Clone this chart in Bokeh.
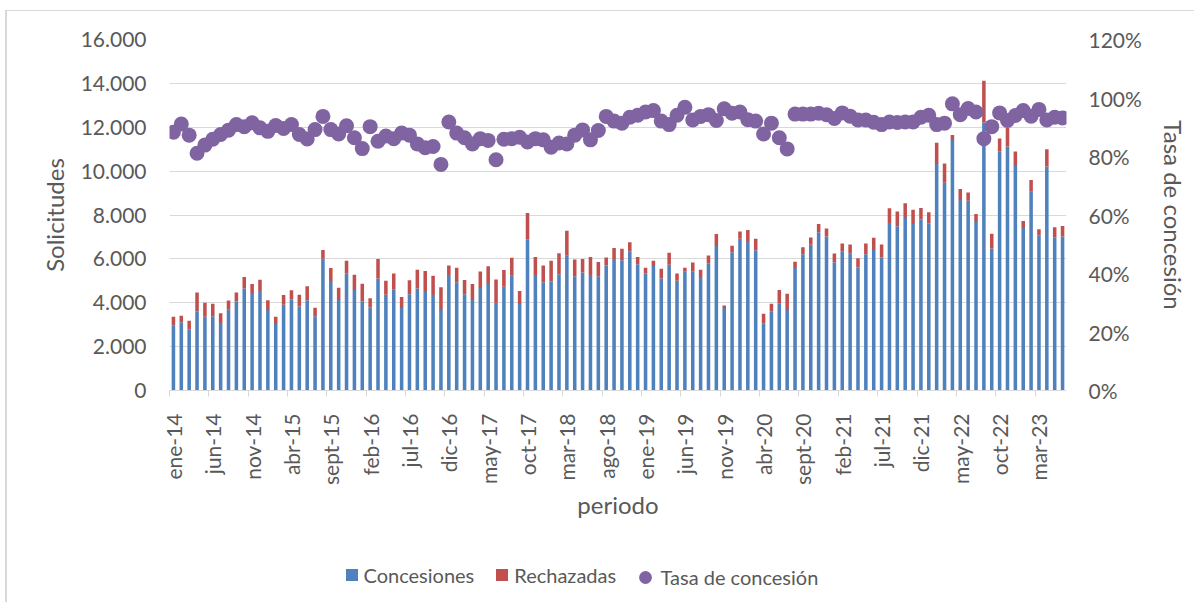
import math
from bokeh.plotting import figure
from bokeh.layouts import column
from bokeh.models import Range1d, LinearAxis, FixedTicker, ColumnDataSource, Legend, LegendItem
from bokeh.embed import file_html
from bokeh.resources import INLINE

meses = ["ene", "feb", "mar", "abr", "may", "jun", "jul", "ago", "sept", "oct", "nov", "dic"]
anios = ["14", "15", "16", "17", "18", "19", "20", "21", "22", "23"]
periodo = [f"{m}-{a}" for a in anios for m in meses][:114]

concesiones = [
    2950, 3110, 2790, 3610, 3360, 3390, 3080, 3680, 4060, 4650, 4440, 4530, 3670, 3030,
    3910, 4150, 3830, 4110, 3380, 6010, 4990, 4120, 5350, 4580, 4050, 3790, 5110, 4360,
    4620, 3760, 4390, 4650, 4530, 4350, 3670, 5260, 4940, 4390, 4120, 4670, 4860, 4000,
    4730, 5230, 3940, 6890, 5260, 4940, 4970, 5300, 6140, 5210, 5380, 5260, 5210, 5700,
    6000, 5940, 6350, 5760, 5330, 5670, 5110, 5730, 5000, 5410, 5410, 5170, 5800, 6590,
    3760, 6300, 6920, 6820, 6390, 3060, 3610, 3960, 3670, 5580, 6210, 6640, 7210, 7020,
    5850, 6350, 6230, 5610, 6210, 6410, 6060, 7640, 7490, 7860, 7590, 7790, 7610, 10320,
    9470, 11420, 8680, 8650, 7680, 12230, 6470, 10910, 11120, 10230, 7410, 9060, 7080, 10210,
    6990, 7020,
]
rechazadas = [
    410, 300, 390, 860, 640, 560, 440, 420, 410, 520, 420, 520, 440, 330,
    440, 420, 530, 640, 390, 400, 590, 560, 560, 700, 820, 410, 880, 640,
    710, 500, 640, 850, 920, 880, 1040, 440, 650, 650, 740, 760, 800, 1060,
    760, 820, 590, 1200, 820, 760, 940, 960, 1140, 760, 620, 830, 650, 360,
    500, 520, 410, 330, 260, 240, 440, 550, 330, 180, 420, 330, 350, 540,
    120, 300, 330, 500, 530, 440, 350, 620, 740, 290, 320, 330, 380, 360,
    390, 350, 420, 420, 490, 550, 590, 670, 670, 680, 650, 530, 520, 970,
    880, 230, 500, 380, 360, 1890, 670, 580, 850, 670, 320, 530, 270, 790,
    450, 480,
]
tasa = [
    88.3, 91.1, 87.3, 81.1, 83.9, 85.9, 87.5, 89.0, 90.9, 90.2, 91.5, 89.8, 88.6, 90.6,
    89.6, 90.9, 87.5, 86.0, 89.2, 93.7, 89.2, 87.7, 90.5, 86.4, 82.7, 90.2, 85.2, 87.0,
    86.1, 88.0, 87.3, 84.3, 83.0, 83.4, 77.3, 91.8, 88.0, 86.4, 84.3, 86.1, 85.5, 78.9,
    85.9, 86.1, 86.6, 85.0, 86.1, 85.7, 83.2, 84.6, 84.3, 87.3, 89.1, 85.7, 88.9, 93.7,
    92.1, 91.4, 93.4, 94.1, 95.2, 95.7, 92.1, 90.9, 94.1, 96.8, 92.5, 93.7, 94.3, 92.3,
    96.3, 94.8, 95.2, 92.6, 92.1, 87.7, 91.4, 86.4, 82.6, 94.5, 94.5, 94.5, 94.8, 94.3,
    93.0, 94.9, 93.8, 92.5, 92.5, 91.7, 90.9, 91.8, 91.6, 91.8, 91.8, 93.4, 94.1, 90.9,
    91.4, 98.0, 94.3, 96.4, 95.2, 86.1, 90.2, 94.9, 92.3, 94.0, 95.7, 93.8, 96.1, 92.5,
    93.4, 93.2,
]

x_tick_labels = ["ene-14", "jun-14", "nov-14", "abr-15", "sept-15", "feb-16", "jul-16",
                 "dic-16", "may-17", "oct-17", "mar-18", "ago-18", "ene-19", "jun-19",
                 "nov-19", "abr-20", "sept-20", "feb-21", "jul-21", "dic-21", "may-22",
                 "oct-22", "mar-23"]
y_left_ticks = [0, 2000, 4000, 6000, 8000, 10000, 12000, 14000, 16000]
y_left_labels = ["0", "2.000", "4.000", "6.000", "8.000", "10.000", "12.000", "14.000", "16.000"]
y_right_ticks = [0, 20, 40, 60, 80, 100, 120]
y_right_labels = ["0%", "20%", "40%", "60%", "80%", "100%", "120%"]
series_names = ["Concesiones", "Rechazadas", "Tasa de concesión"]

FONT = "Lato"
TXT = "#595959"
GRID = "#D9D9D9"
BLUE = "#4F81BD"
RED = "#C0504D"
PURPLE = "#8064A2"

W = 1187
n = len(periodo)
src = ColumnDataSource(dict(x=list(range(n)), periodo=periodo, concesiones=concesiones,
                            rechazadas=rechazadas, tasa=tasa))

p = figure(width=W, height=531, output_backend="svg", toolbar_location=None,
           x_range=Range1d(-0.5, n - 0.5), y_range=Range1d(0, 16000),
           min_border_left=162, min_border_right=128, min_border_top=28, min_border_bottom=152)
p.outline_line_color = None
p.background_fill_color = "white"
p.border_fill_color = "white"
p.extra_y_ranges = {"tasa": Range1d(0, 120)}

# bars and dots
bars = p.vbar_stack(["concesiones", "rechazadas"], x="x", width=0.45, color=[BLUE, RED],
                    line_color=None, source=src)
dots = p.scatter(x="x", y="tasa", size=15, color=PURPLE, line_color=None,
                 y_range_name="tasa", source=src)

# grid
p.xgrid.grid_line_color = None
p.ygrid.ticker = FixedTicker(ticks=y_left_ticks)
p.ygrid.grid_line_color = GRID
p.ygrid.grid_line_width = 1

# x axis
xa = p.xaxis[0]
tick_pos = list(range(0, n, 5))
xa.ticker = FixedTicker(ticks=tick_pos, minor_ticks=[t - 0.5 for t in tick_pos])
xa.major_label_overrides = {t: lab for t, lab in zip(tick_pos, x_tick_labels)}
xa.major_label_orientation = math.pi / 2
xa.axis_line_color = GRID
xa.major_tick_line_color = None
xa.major_tick_out = 0
xa.minor_tick_line_color = GRID
xa.minor_tick_in = 0
xa.minor_tick_out = 6
xa.major_label_standoff = 17
xa.major_label_text_font = FONT
xa.major_label_text_font_size = "21px"
xa.major_label_text_color = TXT
xa.axis_label = "periodo"
xa.axis_label_text_font = FONT
xa.axis_label_text_font_size = "24px"
xa.axis_label_text_font_style = "normal"
xa.axis_label_text_color = TXT
xa.axis_label_standoff = 2

# left axis
ya = p.yaxis[0]
ya.ticker = FixedTicker(ticks=y_left_ticks)
ya.major_label_overrides = {t: lab for t, lab in zip(y_left_ticks, y_left_labels)}
ya.axis_line_color = None
ya.major_tick_line_color = None
ya.minor_tick_line_color = None
ya.major_tick_out = 0
ya.major_label_standoff = 23
ya.major_label_text_font = FONT
ya.major_label_text_font_size = "21px"
ya.major_label_text_color = TXT
ya.axis_label = "Solicitudes"
ya.axis_label_text_font = FONT
ya.axis_label_text_font_size = "24px"
ya.axis_label_text_font_style = "normal"
ya.axis_label_text_color = TXT
ya.axis_label_standoff = 9

# right axis
ra = LinearAxis(y_range_name="tasa", ticker=FixedTicker(ticks=y_right_ticks))
ra.major_label_overrides = {t: lab for t, lab in zip(y_right_ticks, y_right_labels)}
ra.axis_line_color = None
ra.major_tick_line_color = None
ra.minor_tick_line_color = None
ra.major_tick_out = 0
ra.major_label_standoff = 22
ra.major_label_text_font = FONT
ra.major_label_text_font_size = "21px"
ra.major_label_text_color = TXT
ra.axis_label = "Tasa de concesión"
ra.axis_label_text_font = FONT
ra.axis_label_text_font_size = "24px"
ra.axis_label_text_font_style = "normal"
ra.axis_label_text_color = TXT
ra.axis_label_standoff = 14
p.add_layout(ra, "right")

# legend strip below the chart (its frame is aligned with the chart's frame)
LH = 60
lf = figure(width=W, height=LH, output_backend="svg", toolbar_location=None,
            x_range=Range1d(0, 1), y_range=Range1d(0, 1),
            x_axis_location=None, y_axis_location=None, min_border=0)
lf.outline_line_color = None
lf.xgrid.grid_line_color = None
lf.ygrid.grid_line_color = None
lf.background_fill_color = "white"
lf.border_fill_color = "white"
nan = float("nan")
lg_src = ColumnDataSource(dict(x=[nan], y=[nan]))
r_c = lf.vbar(x="x", top="y", width=1, fill_color=BLUE, line_color=None, source=lg_src)
r_r = lf.vbar(x="x", top="y", width=1, fill_color=RED, line_color=None, source=lg_src)
r_t = lf.scatter(x="x", y="y", size=15, fill_color=PURPLE, line_color=None, source=lg_src)


def style_legend(lg):
    lg.border_line_color = None
    lg.background_fill_alpha = 0
    lg.padding = 0
    lg.margin = 0
    lg.label_text_font = FONT
    lg.label_text_font_size = "20px"
    lg.label_text_color = TXT
    lg.label_text_baseline = "middle"


lgA = Legend(items=[LegendItem(label=series_names[0], renderers=[r_c]),
                    LegendItem(label=series_names[1], renderers=[r_r])],
             orientation="horizontal", location=(174.5, 15.5))
style_legend(lgA)
lgA.glyph_width = 15
lgA.glyph_height = 15
lgA.label_standoff = 5
lgA.spacing = 20
lgA.label_height = 15

lgB = Legend(items=[LegendItem(label=series_names[2], renderers=[r_t])],
             orientation="horizontal", location=(459.5, 9.5))
style_legend(lgB)
lgB.glyph_width = 32
lgB.glyph_height = 32
lgB.label_standoff = -9
lf.add_layout(lgA)
lf.add_layout(lgB)

layout = column(p, lf, spacing=0)
layout.styles = {"margin-left": "5px", "margin-top": "10px",
                 "border-left": "2px solid #D9D9D9", "border-top": "1px solid #D9D9D9"}

open("out.html", "w").write(file_html(layout, INLINE))
